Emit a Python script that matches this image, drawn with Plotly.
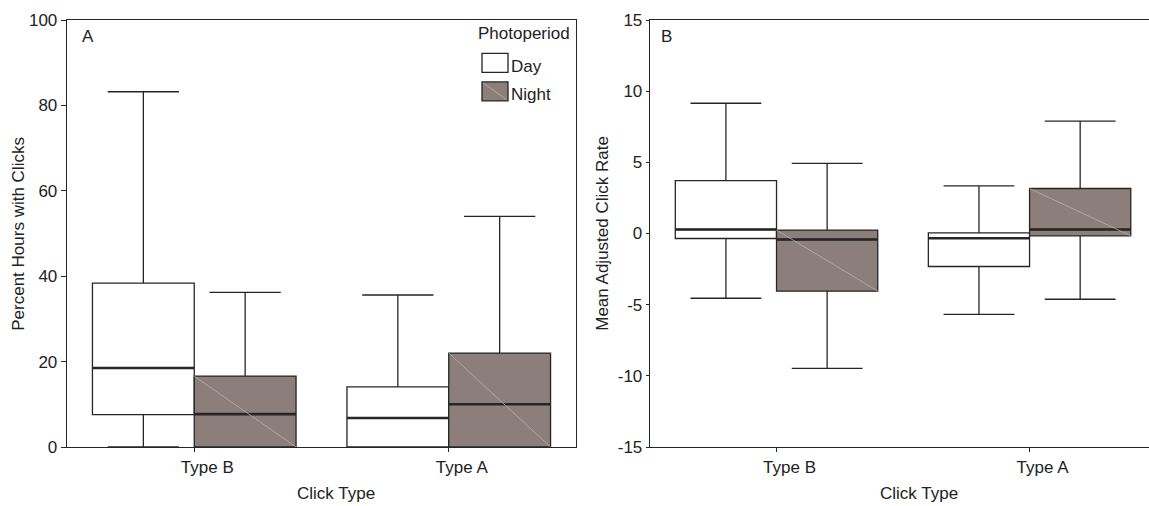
import plotly.graph_objects as go

categories = ["Type B", "Type A"]

# Panel A: Percent Hours with Clicks
pct_ticks = [0, 20, 40, 60, 80, 100]
pct_day_low = [0.0, 0.0]
pct_day_q1 = [7.6, 0.0]
pct_day_med = [18.5, 6.8]
pct_day_q3 = [38.4, 14.1]
pct_day_high = [83.2, 35.6]

pct_night_low = [0.0, 0.0]
pct_night_q1 = [0.0, 0.0]
pct_night_med = [7.7, 10.0]
pct_night_q3 = [16.6, 22.0]
pct_night_high = [36.2, 54.0]

# Panel B: Mean Adjusted Click Rate
rate_ticks = [-15, -10, -5, 0, 5, 10, 15]
rate_day_low = [-4.55, -5.68]
rate_day_q1 = [-0.35, -2.32]
rate_day_med = [0.28, -0.33]
rate_day_q3 = [3.72, 0.05]
rate_day_high = [9.15, 3.35]

rate_night_low = [-9.47, -4.62]
rate_night_q1 = [-4.05, -0.16]
rate_night_med = [-0.42, 0.28]
rate_night_q3 = [0.24, 3.16]
rate_night_high = [4.92, 7.89]

LINE = "#262626"
NIGHT = "#8c7f7b"
HATCH = "#b8aeaa"
TXT = "#222"
FONT = "Liberation Sans, Arial, sans-serif"
FS = 17

W, H = 1149, 506
ML, MR, MT, MB = 67, 0, 20, 58.5
PW, PH = W - ML - MR, H - MT - MB


def px(x):
    return (x - ML) / PW


def py(y):
    return 1 - (y - MT) / PH


fig = go.Figure()


def add_boxes(xa, ya, low, q1, med, q3, high, fill, name, grp):
    fig.add_trace(go.Box(
        x=categories, lowerfence=low, q1=q1, median=med, q3=q3, upperfence=high,
        name=name, fillcolor=fill, line=dict(color=LINE, width=1.3),
        whiskerwidth=0.7, xaxis=xa, yaxis=ya, offsetgroup=grp,
        alignmentgroup="g" + xa, showlegend=False,
        hoverinfo="skip", boxpoints=False,
    ))
    # thicker median line overlay
    fig.add_trace(go.Box(
        x=categories, lowerfence=med, q1=med, median=med, q3=med, upperfence=med,
        name=name, fillcolor="rgba(0,0,0,0)", line=dict(color=LINE, width=2.6),
        whiskerwidth=0, xaxis=xa, yaxis=ya, offsetgroup=grp,
        alignmentgroup="g" + xa, showlegend=False,
        hoverinfo="skip", boxpoints=False,
    ))


add_boxes("x", "y", pct_day_low, pct_day_q1, pct_day_med, pct_day_q3, pct_day_high, "white", "Day", "day")
add_boxes("x", "y", pct_night_low, pct_night_q1, pct_night_med, pct_night_q3, pct_night_high, NIGHT, "Night", "night")
add_boxes("x2", "y2", rate_day_low, rate_day_q1, rate_day_med, rate_day_q3, rate_day_high, "white", "Day", "day")
add_boxes("x2", "y2", rate_night_low, rate_night_q1, rate_night_med, rate_night_q3, rate_night_high, NIGHT, "Night", "night")

shapes = []
# faint diagonal hatch line inside night boxes (top-left to bottom-right)
half = 0.4
for xr, yr, q1s, q3s in [("x", "y", pct_night_q1, pct_night_q3), ("x2", "y2", rate_night_q1, rate_night_q3)]:
    for i in range(len(categories)):
        shapes.append(dict(type="line", xref=xr, yref=yr, x0=i, x1=i + half,
                           y0=q3s[i], y1=q1s[i], line=dict(color=HATCH, width=0.8),
                           layer="above"))

# manual legend (Photoperiod)
shapes.append(dict(type="rect", xref="paper", yref="paper", x0=px(482), x1=px(508),
                   y0=py(72.5), y1=py(53.5), fillcolor="white", line=dict(color=LINE, width=1.3)))
shapes.append(dict(type="rect", xref="paper", yref="paper", x0=px(482), x1=px(508),
                   y0=py(101), y1=py(82), fillcolor=NIGHT, line=dict(color=LINE, width=1.3)))
shapes.append(dict(type="line", xref="paper", yref="paper", x0=px(483), x1=px(507),
                   y0=py(83), y1=py(100), line=dict(color=HATCH, width=0.8)))

axis_common = dict(showline=True, linecolor=LINE, linewidth=1.3, showgrid=False,
                   zeroline=False, ticks="outside", tickcolor=LINE, automargin=False,
                   tickfont=dict(size=FS, color=TXT, family=FONT))

annotations = [
    dict(text="A", xref="paper", yref="paper", x=px(80), y=py(37), xanchor="left",
         yanchor="middle", showarrow=False, font=dict(size=FS)),
    dict(text="B", xref="paper", yref="paper", x=px(659), y=py(37), xanchor="left",
         yanchor="middle", showarrow=False, font=dict(size=FS)),
    dict(text="Photoperiod", xref="paper", yref="paper", x=px(572), y=py(34), xanchor="right",
         yanchor="middle", showarrow=False, font=dict(size=FS)),
    dict(text="Day", xref="paper", yref="paper", x=px(509), y=py(67), xanchor="left",
         yanchor="middle", showarrow=False, font=dict(size=FS)),
    dict(text="Night", xref="paper", yref="paper", x=px(509), y=py(95), xanchor="left",
         yanchor="middle", showarrow=False, font=dict(size=FS)),
    dict(text="Click Type", xref="paper", yref="paper", x=px(336), y=py(494), xanchor="center",
         yanchor="middle", showarrow=False, font=dict(size=FS)),
    dict(text="Click Type", xref="paper", yref="paper", x=px(919), y=py(494), xanchor="center",
         yanchor="middle", showarrow=False, font=dict(size=FS)),
    dict(text="Percent Hours with Clicks", xref="paper", yref="paper", x=px(19), y=py(234),
         xanchor="center", yanchor="middle", textangle=-90, showarrow=False, font=dict(size=FS)),
    dict(text="Mean Adjusted Click Rate", xref="paper", yref="paper", x=px(603), y=py(234),
         xanchor="center", yanchor="middle", textangle=-90, showarrow=False, font=dict(size=FS)),
]

fig.update_layout(
    width=W, height=H,
    margin=dict(l=ML, r=MR, t=MT, b=MB, autoexpand=False),
    paper_bgcolor="white", plot_bgcolor="white",
    font=dict(family=FONT, size=FS, color=TXT),
    boxmode="group", boxgap=0.2, boxgroupgap=0,
    showlegend=False,
    xaxis=dict(domain=[0, px(576)], type="category", range=[-0.5, 1.5], mirror=True,
               ticklen=4, ticklabelshift=13, **axis_common),
    yaxis=dict(range=[0, 100], tickvals=pct_ticks, ticktext=[str(v) for v in pct_ticks],
               mirror=True, ticklen=5, **axis_common),
    xaxis2=dict(domain=[px(650), 1], type="category", range=[-0.5, 1.472], mirror=True,
                anchor="y2", ticklen=4, ticklabelshift=13, **axis_common),
    yaxis2=dict(range=[-15, 15], tickvals=rate_ticks, ticktext=[str(v) for v in rate_ticks],
                anchor="x2", mirror=False, ticklen=3, **axis_common),
    shapes=shapes,
    annotations=annotations,
)

fig.write_html("out.html", config={"displayModeBar": False, "staticPlot": True},
               post_script="document.body.style.margin='0px';document.body.style.overflow='hidden';")
